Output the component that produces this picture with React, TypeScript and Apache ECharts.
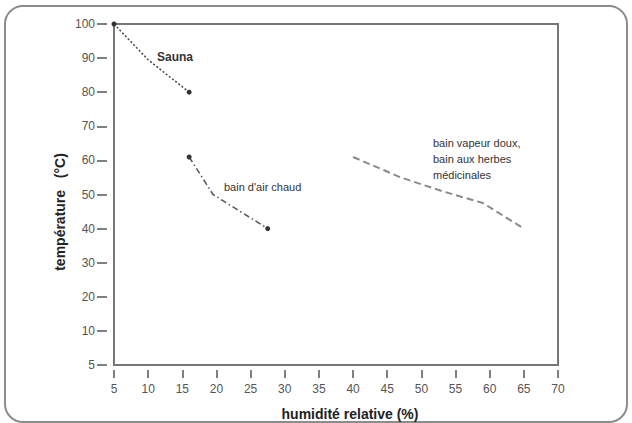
import { useEffect, useRef } from "react";
import * as echarts from "echarts";

// humidité relative (%) / température (°C)
const saunaX = [5, 10, 16];
const saunaY = [100, 89.5, 80];
const airChaudX = [16, 19.5, 27.5];
const airChaudY = [61, 50, 40];
const vapeurX = [40, 47, 53, 59, 65];
const vapeurY = [61, 55, 51, 47.5, 40];

const xTicks = [5, 70, 5]; // min, max, step
const yTicks = [0, 100, 10];
const yBottomLabel = "5"; // the bottom tick reads 5 on the original

const FONT = "Liberation Sans, Arial, sans-serif";

const pairs = (xs: number[], ys: number[]) => xs.map((x, i) => [x, ys[i]]);

const endDots = (n: number) => (_v: any, p: any) =>
  p.dataIndex === 0 || p.dataIndex === n - 1 ? 5 : 0;

export default function App() {
  const ref = useRef<HTMLDivElement>(null);

  useEffect(() => {
    document.body.style.margin = "0";
    if (!ref.current) return;
    const chart = echarts.init(ref.current, undefined, { renderer: "svg" });
    chart.setOption({
      animation: false,
      backgroundColor: "#fff",
      grid: {
        left: 114,
        top: 24,
        width: 444,
        height: 341,
        show: true,
        borderColor: "#777",
        borderWidth: 2,
        backgroundColor: "transparent",
      },
      xAxis: {
        type: "value",
        min: xTicks[0],
        max: xTicks[1],
        interval: xTicks[2],
        offset: 5,
        axisLine: { show: false, onZero: false },
        axisTick: { show: true, length: 8, lineStyle: { color: "#555", width: 1.5 } },
        axisLabel: { color: "#555", fontSize: 12, fontFamily: FONT, margin: 13 },
        splitLine: { show: false },
      },
      yAxis: {
        type: "value",
        min: yTicks[0],
        max: yTicks[1],
        interval: yTicks[2],
        offset: 7,
        axisLine: { show: false, onZero: false },
        axisTick: { show: true, length: 10, lineStyle: { color: "#555", width: 1.5 } },
        axisLabel: {
          color: "#555",
          fontSize: 12,
          fontFamily: FONT,
          margin: 12,
          formatter: (v: number) => (v === yTicks[0] ? yBottomLabel : String(v)),
        },
        splitLine: { show: false },
      },
      series: [
        {
          name: "Sauna",
          type: "line",
          data: pairs(saunaX, saunaY),
          symbol: "circle",
          symbolSize: endDots(saunaX.length),
          itemStyle: { color: "#333" },
          lineStyle: { color: "#444", width: 1.5, type: [2, 2] },
        },
        {
          name: "bain d'air chaud",
          type: "line",
          data: pairs(airChaudX, airChaudY),
          symbol: "circle",
          symbolSize: endDots(airChaudX.length),
          itemStyle: { color: "#333" },
          lineStyle: { color: "#555", width: 1.5, type: [6, 3, 1.5, 3] },
        },
        {
          name: "bain vapeur",
          type: "line",
          data: pairs(vapeurX, vapeurY),
          symbol: "none",
          lineStyle: { color: "#8a8a8a", width: 2, type: [7, 4] },
        },
      ],
      graphic: [
        {
          type: "rect",
          shape: { x: 5, y: 6, width: 622, height: 416, r: 18 },
          style: { fill: "none", stroke: "#8c8c8c", lineWidth: 2 },
          silent: true,
        },
        {
          type: "text",
          x: 157,
          y: 57,
          style: {
            text: "Sauna",
            font: `bold 12px ${FONT}`,
            fill: "#333",
            verticalAlign: "middle",
          },
        },
        {
          type: "text",
          x: 224,
          y: 187,
          style: {
            text: "bain d'air chaud",
            font: `11px ${FONT}`,
            fill: "#333",
            verticalAlign: "middle",
          },
        },
        {
          type: "text",
          x: 433,
          y: 135,
          style: {
            text: "bain vapeur doux,\nbain aux herbes\nmédicinales",
            font: `11px ${FONT}`,
            lineHeight: 16,
            fill: "#333",
          },
        },
        {
          type: "text",
          x: 60,
          y: 212,
          rotation: Math.PI / 2,
          style: {
            text: "température   (°C)",
            font: `bold 14px ${FONT}`,
            fill: "#222",
            align: "center",
            verticalAlign: "middle",
          },
        },
        {
          type: "text",
          x: 350,
          y: 414,
          style: {
            text: "humidité relative (%)",
            font: `bold 14px ${FONT}`,
            fill: "#222",
            align: "center",
            verticalAlign: "middle",
          },
        },
      ],
    });
    return () => chart.dispose();
  }, []);

  return <div ref={ref} style={{ width: 632, height: 423 }} />;
}
